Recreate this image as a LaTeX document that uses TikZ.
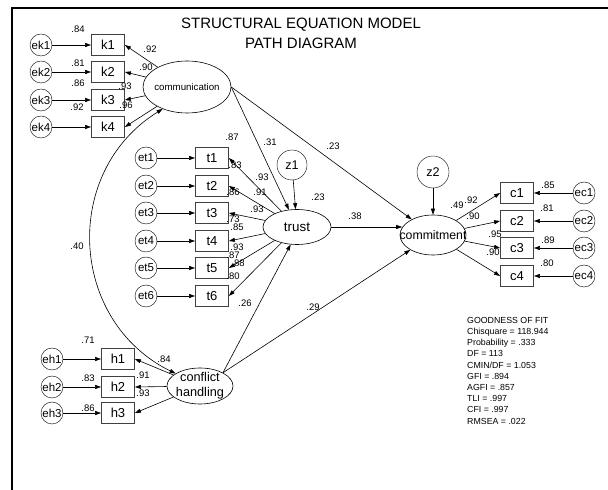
\documentclass[tikz,border=0pt]{standalone}
\usepackage{fontspec}
\setmainfont{Liberation Sans}
\usetikzlibrary{arrows.meta,positioning,shapes.geometric}

\tikzset{
  arr/.style={-{Triangle[length=6pt,width=4pt]}, line width=0.6pt},
  ind/.style={draw=black!75, line width=0.8pt, minimum width=33pt, minimum height=21pt, inner sep=0pt, font=\fontsize{13}{13}\selectfont},
  err/.style={draw, circle, minimum size=22pt, inner sep=0pt, font=\fontsize{11.5}{11.5}\selectfont},
  lat/.style={draw, ellipse, inner sep=0pt, line width=0.6pt},
  lbl/.style={inner sep=0pt, font=\fontsize{9.5}{9.5}\selectfont},
}

\begin{document}
\begin{tikzpicture}[x=1pt,y=1pt]
  \useasboundingbox (0,0) rectangle (608,490);
  \draw[line width=1.3pt] (12,0) -- (12,482) -- (608,482);
  \node[align=center, font=\fontsize{15}{20}\selectfont] (title) at (301,457) {STRUCTURAL EQUATION MODEL\\PATH DIAGRAM};

  % latent variables
  \node[lat, minimum width=88pt, minimum height=52pt] (comm) at (187,403) {};
  \node[font=\fontsize{9.7}{10}\selectfont] (comm-t) at (comm) {communication};
  \node[lat, minimum width=68pt, minimum height=35pt] (trust) at (297,263) {};
  \node[font=\fontsize{13.4}{14}\selectfont] (trust-t) at (trust) {trust};
  \node[lat, minimum width=66pt, minimum height=40pt] (commit) at (433,255) {};
  \node[font=\fontsize{12.3}{13}\selectfont] (commit-t) at (commit) {commitment};
  \node[lat, minimum width=66pt, minimum height=36pt] (conf) at (200,104) {};
  \node[align=center, font=\fontsize{12.7}{15}\selectfont] (conf-t) at (conf) {conflict\\handling};
  \node[err, minimum size=30pt, font=\fontsize{12.6}{13}\selectfont] (z1) at (292,325) {z1};
  \node[err, minimum size=32pt, font=\fontsize{12.6}{13}\selectfont] (z2) at (433,318) {z2};

  % indicators
  \foreach \i/\y in {1/445,2/418,3/390,4/363} {
    \node[ind] (k\i) at (108,\y) {k\i};
    \node[err] (ek\i) at (41,\y) {ek\i};
    \draw[arr] (ek\i) -- (k\i);
    \draw[arr] (comm) -- (k\i.east);
  }
  \foreach \i/\y in {1/332,2/304,3/277,4/249,5/222,6/194} {
    \node[ind] (t\i) at (212,\y) {t\i};
    \node[err] (et\i) at (146,\y) {et\i};
    \draw[arr] (et\i) -- (t\i);
    \draw[arr] (trust) -- (t\i.east);
  }
  \foreach \i/\y in {1/297,2/269,3/242,4/214} {
    \node[ind] (c\i) at (517,\y) {c\i};
    \node[err] (ec\i) at (584,\y) {ec\i};
    \draw[arr] (ec\i) -- (c\i);
    \draw[arr] (commit) -- (c\i.west);
  }
  \foreach \i/\y in {1/131,2/103,3/77} {
    \node[ind] (h\i) at (118,\y) {h\i};
    \node[err] (eh\i) at (52,\y) {eh\i};
    \draw[arr] (eh\i) -- (h\i);
    \draw[arr] (conf) -- (h\i.east);
  }

  % structural paths
  \draw[arr] (comm.east) -- (trust);
  \draw[arr] (comm.east) -- (commit);
  \draw[arr] (conf.30) -- (trust.250);
  \draw[arr] (conf.30) -- (commit);
  \draw[arr, shorten >=-2.5pt] (trust.east) -- (trust.east -| commit.west);
  \draw[arr] (z1) -- (trust);
  \draw[arr] (z2) -- (commit);
  \draw[{Triangle[length=6pt,width=4pt]}-{Triangle[length=6pt,width=4pt]}, line width=0.6pt]
    (comm.222) to[bend right=61, looseness=1.15] (conf.153);

  % estimates
  \foreach [count=\n] \x/\y/\v in {78/461/.84, 78/427/.81, 78/407/.86, 77/383/.92,
      150/441/.92, 146/423/.90, 125/404/.93, 126/385/.96,
      77/244/.40, 270/348/.31, 333/344/.23, 232/353/.87, 318/293/.23,
      235/325/.83, 262/313/.93, 260/298/.91, 233/298/.86, 257/281/.93, 233/271/.73,
      237/263/.85, 237/243/.93, 233/235/.87, 238/227/.88, 233/214/.80,
      245/187/.26, 313/183/.29, 355/274/.38,
      457/285/.49, 471/290/.92, 473/274/.90, 495/256/.95, 493/238/.90,
      548/305/.85, 547/282/.81, 548/250/.89, 547/227/.80,
      88/150/.71, 164/131/.84, 88/112/.83, 143/115/.91, 143/97/.93, 88/82/.86}
    \node[lbl] (est\n) at (\x,\y) {\v};

  % fit indices
  \node[anchor=north west, align=left, inner sep=0pt, font=\fontsize{8.8}{11.2}\selectfont] (gof) at (467,173)
    {GOODNESS OF FIT\\Chisquare = 118.944\\Probability = .333\\DF = 113\\CMIN/DF = 1.053\\GFI = .894\\AGFI = .857\\TLI = .997\\CFI = .997\\RMSEA = .022};
\end{tikzpicture}
\end{document}
